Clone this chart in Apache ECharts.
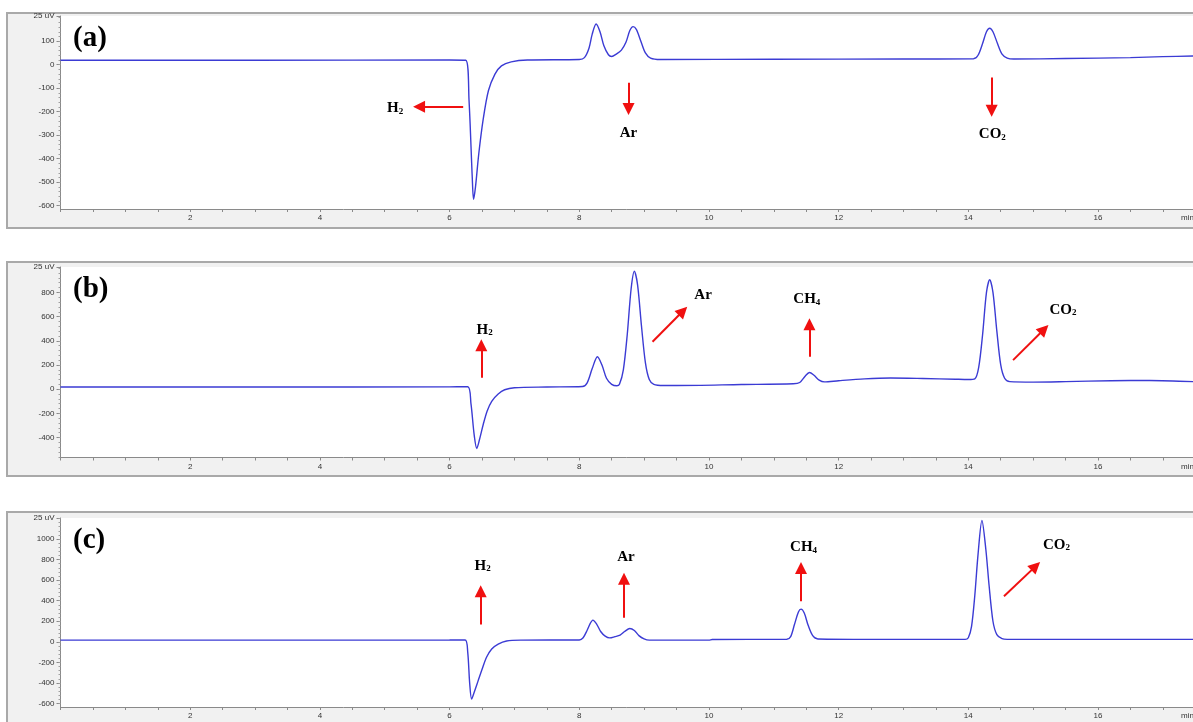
<!DOCTYPE html>
<html><head><meta charset="utf-8">
<script src="https://cdn.jsdelivr.net/npm/echarts@6/dist/echarts.min.js"></script>
<style>html,body{margin:0;padding:0;background:#fff}#c{width:1193px;height:722px}</style>
</head><body><div id="c"></div>
<script>
// ---------- data ----------
const panelTags = ['(a)', '(b)', '(c)'];
const xTickLabels = [2, 4, 6, 8, 10, 12, 14, 16];
const xUnit = 'min';
const yUnit = '25 uV';

// Panel (a)
const timeA = [0, 3, 6.0, 6.25, 6.30, 6.35, 6.37, 6.40, 6.45, 6.52, 6.60, 6.70, 6.80, 6.95, 7.2, 8.00, 8.08, 8.15, 8.20, 8.26, 8.32, 8.38, 8.45, 8.50, 8.57, 8.65, 8.72, 8.78, 8.83, 8.88, 8.95, 9.02, 9.10, 9.25, 11, 13.0, 14.08, 14.15, 14.22, 14.28, 14.33, 14.38, 14.45, 14.52, 14.60, 14.70, 15.5, 16.5, 17.0, 17.5];
const signalA = [19, 19, 20, 19, -150, -480, -573, -520, -380, -230, -110, -40, -5, 12, 20, 22, 30, 70, 130, 173, 140, 80, 42, 35, 45, 62, 95, 145, 162, 150, 100, 50, 28, 22, 23, 24, 25, 40, 90, 140, 155, 140, 90, 45, 28, 24, 26, 30, 34, 37];
const yTicksA = [-600, -500, -400, -300, -200, -100, 0, 100];
const yRangeA = [-614, 207];
const arrowsA = [[6.21, -179, 5.53, -179], [8.76, -77, 8.76, -189], [14.36, -55, 14.36, -196]];
const labelsA = [['H', '2', 5.16, -179], ['Ar', '', 8.76, -285], ['CO', '2', 14.37, -291]];

// Panel (b)
const timeB = [0, 3, 6.0, 6.28, 6.33, 6.38, 6.42, 6.46, 6.52, 6.58, 6.65, 6.75, 6.85, 7.0, 7.5, 8.05, 8.12, 8.20, 8.28, 8.35, 8.42, 8.50, 8.58, 8.62, 8.68, 8.74, 8.80, 8.85, 8.90, 8.96, 9.02, 9.08, 9.15, 9.3, 9.5, 10.5, 11.3, 11.40, 11.48, 11.55, 11.62, 11.70, 11.78, 12.0, 12.4, 12.8, 13.3, 13.8, 14.0, 14.10, 14.16, 14.22, 14.28, 14.33, 14.38, 14.44, 14.50, 14.56, 14.64, 15.0, 15.5, 16.2, 16.8, 17.5];
const signalB = [18, 18, 19, 20, -120, -380, -490, -420, -290, -180, -100, -40, -5, 12, 18, 22, 50, 170, 268, 200, 90, 40, 28, 40, 160, 450, 830, 975, 860, 520, 220, 80, 40, 30, 30, 38, 45, 55, 105, 138, 115, 75, 60, 70, 85, 92, 88, 82, 80, 85, 180, 450, 800, 905, 800, 480, 200, 90, 62, 58, 62, 70, 72, 62];
const yTicksB = [-400, -200, 0, 200, 400, 600, 800];
const yRangeB = [-565, 1010];
const arrowsB = [[6.49, 94, 6.49, 364], [9.13, 392, 9.60, 646], [11.55, 267, 11.55, 536], [14.69, 240, 15.17, 495]];
const labelsB = [['H', '2', 6.54, 502], ['Ar', '', 9.91, 792], ['CH', '4', 11.51, 756], ['CO', '2', 15.46, 668]];

// Panel (c)
const timeC = [0, 3, 6.0, 6.24, 6.28, 6.31, 6.34, 6.38, 6.44, 6.50, 6.57, 6.65, 6.75, 6.88, 7.1, 8.00, 8.06, 8.12, 8.17, 8.21, 8.27, 8.33, 8.40, 8.47, 8.55, 8.63, 8.70, 8.78, 8.85, 8.92, 9.00, 9.08, 10.0, 10.05, 11.2, 11.26, 11.32, 11.38, 11.42, 11.47, 11.53, 11.60, 11.68, 12.5, 13.95, 14.00, 14.05, 14.10, 14.15, 14.21, 14.27, 14.32, 14.38, 14.44, 14.52, 14.60, 17.5];
const signalC = [16, 16, 17, 18, -100, -400, -556, -490, -380, -270, -150, -70, -22, 8, 16, 18, 40, 110, 180, 211, 170, 100, 55, 38, 50, 65, 100, 130, 110, 60, 28, 16, 16, 22, 25, 50, 170, 290, 318, 280, 160, 60, 28, 24, 24, 40, 150, 450, 850, 1180, 900, 550, 200, 70, 30, 24, 24];
const yTicksC = [-600, -400, -200, 0, 200, 400, 600, 800, 1000];
const yRangeC = [-634, 1204];
const arrowsC = [[6.48, 169, 6.48, 492], [8.69, 233, 8.69, 612], [11.42, 395, 11.42, 718], [14.55, 444, 15.04, 736]];
const labelsC = [['H', '2', 6.51, 751], ['Ar', '', 8.72, 842], ['CH', '4', 11.46, 932], ['CO', '2', 15.36, 955]];

// ---------- layout ----------
const panels = [
  {time: timeA, sig: signalA, ticks: yTicksA, range: yRangeA, minorStep: 20, arrows: arrowsA, labels: labelsA, frameTop: 13, frameH: 215, top: 16, height: 193},
  {time: timeB, sig: signalB, ticks: yTicksB, range: yRangeB, minorStep: 40, arrows: arrowsB, labels: labelsB, frameTop: 262, frameH: 214, top: 267, height: 190.5},
  {time: timeC, sig: signalC, ticks: yTicksC, range: yRangeC, minorStep: 40, arrows: arrowsC, labels: labelsC, frameTop: 512, frameH: 222, top: 518, height: 189}
];
const GRID_LEFT = 60.5, GRID_W = 1132.5, X_MAX = 17.465;
const lineColor = '#3b3bd4';
const arrowColor = '#f01010';
const serif = '"Liberation Serif", "Times New Roman", serif';

const grids = [], xAxes = [], yAxes = [], series = [], graphics = [];
panels.forEach((p, i) => {
  graphics.push({type: 'rect', shape: {x: 7, y: p.frameTop, width: 1220, height: p.frameH}, style: {fill: '#f1f1f1', stroke: '#a9a9a9', lineWidth: 2}, z: -10});
  graphics.push({type: 'text', left: 73, top: p.top + 8, style: {text: panelTags[i], font: 'bold 29px ' + serif, fill: '#000'}, z: 100});
  graphics.push({type: 'text', left: 1181, top: p.top + p.height + 5, style: {text: xUnit, font: '8px "Liberation Sans", Arial, sans-serif', fill: '#333'}, z: 100});
  grids.push({left: GRID_LEFT, top: p.top, width: GRID_W, height: p.height, show: true, backgroundColor: '#fff', borderWidth: 0});
  xAxes.push({
    type: 'value', gridIndex: i, min: 0, max: X_MAX, interval: 0.5,
    axisLine: {show: true, onZero: false, lineStyle: {color: '#8a8a8a', width: 1}},
    axisTick: {show: true, length: 3, lineStyle: {color: '#8a8a8a'}},
    axisLabel: {margin: 5, fontSize: 8, color: '#333', fontFamily: '"Liberation Sans", Arial, sans-serif', showMaxLabel: false,
      formatter: v => xTickLabels.includes(Math.round(v * 100) / 100) ? String(v) : ''},
    splitLine: {show: false}
  });
  const [ymin, ymax] = p.range;
  const minorVals = [];
  for (let v = Math.ceil(ymin / p.minorStep) * p.minorStep; v <= ymax; v += p.minorStep) minorVals.push(v);
  yAxes.push({
    type: 'value', gridIndex: i, position: 'left', min: ymin, max: ymax,
    axisLine: {show: true, onZero: false, lineStyle: {color: '#8a8a8a', width: 1}},
    axisTick: {show: true, length: 4, customValues: p.ticks.concat([ymax]), lineStyle: {color: '#8a8a8a'}},
    axisLabel: {show: true, margin: 6, fontSize: 8, color: '#333', fontFamily: '"Liberation Sans", Arial, sans-serif',
      customValues: p.ticks.concat([ymax]), formatter: v => v === ymax ? yUnit : String(v)},
    splitLine: {show: false}
  });
  yAxes.push({
    type: 'value', gridIndex: i, position: 'left', offset: 0, min: ymin, max: ymax,
    axisLine: {show: false}, axisLabel: {show: false}, splitLine: {show: false},
    axisTick: {show: true, length: 2, customValues: minorVals, lineStyle: {color: '#a0a0a0'}}
  });
  series.push({
    type: 'line', xAxisIndex: i, yAxisIndex: 2 * i, symbol: 'none', smooth: 0.3,
    lineStyle: {color: lineColor, width: 1.4}, animation: false, silent: true,
    data: p.time.map((t, k) => [t, p.sig[k]]),
    markLine: {
      silent: true, animation: false, symbol: ['none', 'triangle'], symbolSize: 12,
      label: {show: false},
      lineStyle: {color: arrowColor, width: 2, type: 'solid'},
      data: p.arrows.map(a => [{coord: [a[0], a[1]]}, {coord: [a[2], a[3]]}])
    },
    markPoint: {
      silent: true, animation: false, symbol: 'circle', symbolSize: 0,
      label: {
        show: true, position: 'inside', color: '#000',
        formatter: q => '{m|' + q.data.main + '}' + (q.data.sub ? '{s|' + q.data.sub + '}' : ''),
        rich: {
          m: {fontFamily: serif, fontWeight: 'bold', fontSize: 15, lineHeight: 18, color: '#000', verticalAlign: 'bottom'},
          s: {fontFamily: serif, fontWeight: 'bold', fontSize: 9, lineHeight: 10, color: '#000', verticalAlign: 'bottom'}
        }
      },
      data: p.labels.map(l => ({coord: [l[2], l[3]], main: l[0], sub: l[1], value: 0}))
    }
  });
});

const chart = echarts.init(document.getElementById('c'), null, {renderer: 'canvas'});
chart.setOption({
  animation: false,
  backgroundColor: '#fff',
  grid: grids, xAxis: xAxes, yAxis: yAxes, series: series,
  graphic: graphics
});
</script></body></html>
